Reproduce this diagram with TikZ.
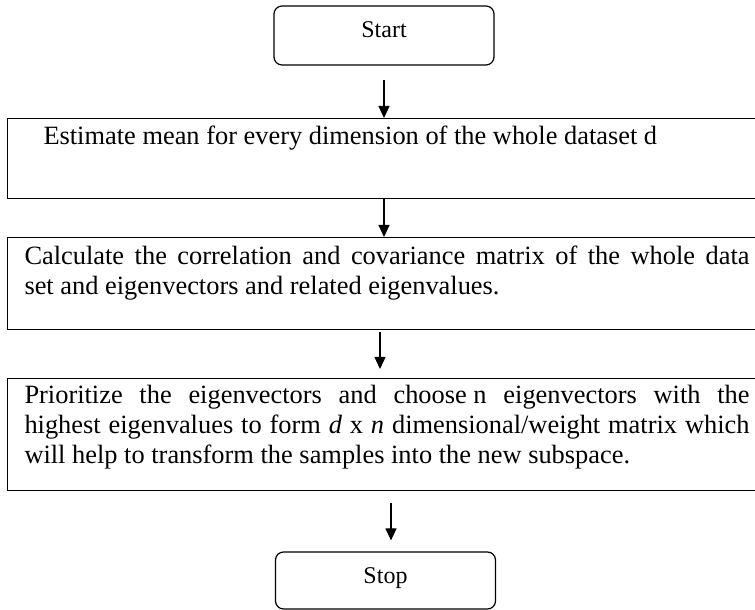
\documentclass[tikz,border=0pt]{standalone}
\usepackage{fontspec}
\setmainfont{Liberation Serif}
\usetikzlibrary{arrows.meta}

\begin{document}
\begin{tikzpicture}[x=1pt, y=1pt, >={Triangle[width=11pt,length=12pt]}, flow/.style={->, line width=1.2pt}, terminal/.style={rectangle, rounded corners=8pt, draw, line width=1.2pt, minimum width=220pt, minimum height=59pt, font=\fontsize{24}{28}\selectfont}, process/.style={rectangle, draw, line width=1.5pt, text width=725pt, align=justify, inner xsep=17pt, inner ysep=0pt, anchor=north, font=\fontsize{26.4}{30}\selectfont}]

\useasboundingbox (0,0) rectangle (755,610);

\node[terminal, text depth=12pt] (start) at (384,574.5) {Start};

\node[process, text height=26pt, text depth=54pt] (mean) at (387,492) {\hspace*{19pt}Estimate mean for every dimension of the whole dataset d};
\node[process, text height=27pt, text depth=65pt] (covar) at (387,373) {Calculate the correlation and covariance matrix of the whole data\linebreak set and eigenvectors and related eigenvalues.};
\node[process, text height=25pt, text depth=87pt] (prior) at (387,232) {Prioritize the eigenvectors and choose\kern0.25em n eigenvectors with the\linebreak highest eigenvalues to form \textit{d} x \textit{n} dimensional/weight matrix which\linebreak will help to transform the samples into the new subspace.};

\node[terminal, minimum height=57pt, text depth=10pt] (stop) at (385.5,29.5) {Stop};

\draw[flow, shorten <=14pt] (start) -- (start |- mean.north);
\draw[flow] (start |- mean.south) -- (start |- covar.north);
\draw[flow, shorten <=2pt, shorten >=9pt] ([xshift=-4pt]start.south |- covar.south) -- ([xshift=-4pt]start.south |- prior.north);
\draw[flow, shorten <=12pt, shorten >=11pt] ([xshift=7pt]start.south |- prior.south) -- ([xshift=7pt]start.south |- stop.north);
\end{tikzpicture}
\end{document}
